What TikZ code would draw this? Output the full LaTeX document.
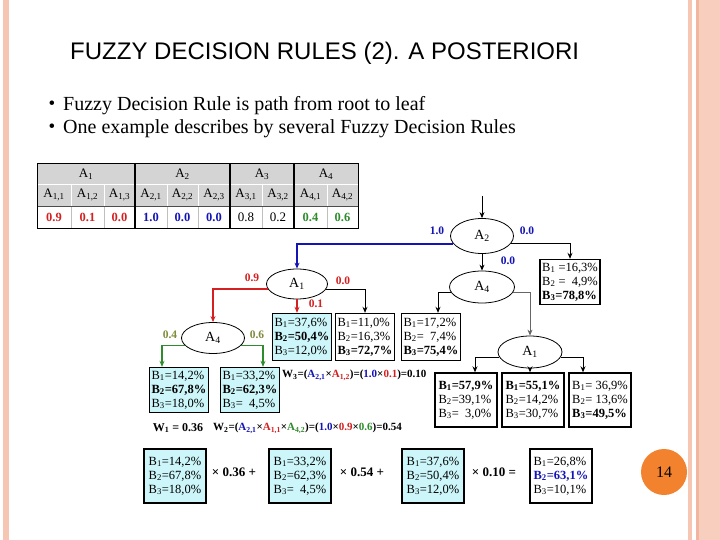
\documentclass[tikz,border=0pt]{standalone}
\usepackage{fontspec}
\setmainfont{Liberation Serif}
\newfontfamily\headfont{Liberation Sans}
\usetikzlibrary{arrows.meta,shapes.geometric}
\definecolor{framepeach}{HTML}{F7C6B3}
\definecolor{framepeachdk}{HTML}{F2B6A0}
\definecolor{pagedot}{HTML}{F3822F}
\definecolor{cellgrey}{HTML}{D4D4D4}
\definecolor{leafcyan}{HTML}{CCF6F9}
\definecolor{rulered}{HTML}{D42020}
\definecolor{ruleblue}{HTML}{1414B4}
\definecolor{rulegreen}{HTML}{2E8B2E}
\definecolor{ruleolive}{HTML}{7E8C3C}
\newcommand{\bq}[2]{B\textsubscript{#1}=#2\%}
\newcommand{\aq}[1]{A\textsubscript{#1}}
\tikzset{
  attr/.style={draw, ellipse, line width=0.8pt, inner sep=0pt, minimum width=63pt, minimum height=32pt, font=\fontsize{14}{16}\selectfont},
  leaf/.style={draw, line width=1.4pt, inner sep=2pt, align=left, minimum width=56pt, minimum height=45pt, font=\fontsize{12.5}{14}\selectfont},
  cyanleaf/.style={leaf, fill=leafcyan},
  wideleaf/.style={minimum width=62pt, minimum height=54pt},
  arrowline/.style={-{Stealth[length=6pt,width=5pt]}, line width=0.8pt},
  weight/.style={font=\bfseries\fontsize{11.5}{13}\selectfont},
  cell/.style={font=\fontsize{13}{15}\selectfont, inner sep=0pt},
  cellval/.style={font=\bfseries\fontsize{12.5}{14}\selectfont, inner sep=0pt}
}

\begin{document}
\begin{tikzpicture}[x=1pt,y=-1pt]
\useasboundingbox (0,0) rectangle (720,540);
\fill[white] (0,0) rectangle (720,540);
% slide frame
\fill[framepeach] (3,0) rectangle (9,540);
\fill[framepeach] (688,0) rectangle (692,540);
\fill[framepeach!85] (696,0) rectangle (720,540);
\fill[framepeachdk] (696,0) rectangle (699,540);
\node[circle, fill=pagedot, minimum size=46pt, inner sep=0pt, font=\fontsize{16}{18}\selectfont] (pagenum) at (664,472) {14};

% title and bullets
\node[anchor=west, inner sep=0pt, font=\headfont\fontsize{24}{28}\selectfont] (title) at (70,53) {FUZZY DECISION RULES (2). A POSTERIORI};
\node[inner sep=0pt, font=\fontsize{19}{19}\selectfont] (dot1) at (52,105) {•};
\node[anchor=west, inner sep=0pt, font=\fontsize{20}{23}\selectfont] (bul1) at (63,106) {Fuzzy Decision Rule is path from root to leaf};
\node[inner sep=0pt, font=\fontsize{19}{19}\selectfont] (dot2) at (52,128) {•};
\node[anchor=west, inner sep=0pt, font=\fontsize{20}{23}\selectfont] (bul2) at (63,129) {One example describes by several Fuzzy Decision Rules};

% attribute table
\fill[cellgrey] (37,163) rectangle (358,206);
\draw[white, line width=1pt] (37,185) -- (358,185);
\draw[white, line width=1pt] (71,185) -- (71,206) (104,185) -- (104,206) (167,185) -- (167,206) (198,185) -- (198,206) (262,185) -- (262,206) (327,185) -- (327,206);
\draw[black!25] (71,206) -- (71,228) (104,206) -- (104,228) (167,206) -- (167,228) (198,206) -- (198,228) (262,206) -- (262,228) (327,206) -- (327,228);
\draw[black!70, line width=0.6pt] (37,206) -- (358,206);
\draw[line width=1.3pt] (135,163) -- (135,228) (230,163) -- (230,228) (294,163) -- (294,228);
\draw[line width=0.8pt] (37,163) rectangle (358,228);
\node[cell] (h1) at (86,174) {\aq{1}};
\node[cell] (h2) at (182.5,174) {\aq{2}};
\node[cell] (h3) at (262,174) {\aq{3}};
\node[cell] (h4) at (326,174) {\aq{4}};
\node[cell] (s11) at (54,195) {\aq{1,1}};
\node[cell] (s12) at (87.5,195) {\aq{1,2}};
\node[cell] (s13) at (119.5,195) {\aq{1,3}};
\node[cell] (s21) at (151,195) {\aq{2,1}};
\node[cell] (s22) at (182.5,195) {\aq{2,2}};
\node[cell] (s23) at (214,195) {\aq{2,3}};
\node[cell] (s31) at (246,195) {\aq{3,1}};
\node[cell] (s32) at (278,195) {\aq{3,2}};
\node[cell] (s41) at (310.5,195) {\aq{4,1}};
\node[cell] (s42) at (342.5,195) {\aq{4,2}};
\node[cellval, rulered] (v11) at (54,217) {0.9};
\node[cellval, rulered] (v12) at (87.5,217) {0.1};
\node[cellval, rulered] (v13) at (119.5,217) {0.0};
\node[cellval, ruleblue] (v21) at (151,217) {1.0};
\node[cellval, ruleblue] (v22) at (182.5,217) {0.0};
\node[cellval, ruleblue] (v23) at (214,217) {0.0};
\node[cell] (v31) at (246,217) {0.8};
\node[cell] (v32) at (278,217) {0.2};
\node[cellval, rulegreen] (v41) at (310.5,217) {0.4};
\node[cellval, rulegreen] (v42) at (342.5,217) {0.6};

% tree
\coordinate (root) at (482,196);
\node[attr, minimum width=63pt, minimum height=35pt] (a2) at (482,236) {\aq{2}};
\node[attr, minimum width=65pt] (a4r) at (482,287) {\aq{4}};
\node[attr, minimum width=64pt] (a1b) at (530,352) {\aq{1}};
\node[attr, minimum width=61pt, minimum height=30pt] (a1t) at (297,284) {\aq{1}};
\node[attr, minimum height=31pt] (a4l) at (213,338) {\aq{4}};

\node[leaf] (lb1) at (570,282) {B\textsubscript{1} =16,3\%\\B\textsubscript{2} = \ 4,9\%\\\textbf{\bq{3}{78,8}}};
\node[cyanleaf, minimum height=47pt] (lt1) at (302,337) {\bq{1}{37,6}\\\textbf{\bq{2}{50,4}}\\\bq{3}{12,0}};
\node[leaf, minimum height=47pt] (lt2) at (365,337) {\bq{1}{11,0}\\\bq{2}{16,3}\\\textbf{\bq{3}{72,7}}};
\node[leaf, minimum height=47pt] (lr2) at (431,337) {\bq{1}{17,2}\\B\textsubscript{2}= \ 7,4\%\\\textbf{\bq{3}{75,4}}};
\node[leaf, wideleaf] (lf1) at (466,400) {\textbf{\bq{1}{57,9}}\\\bq{2}{39,1}\\B\textsubscript{3}= \ 3,0\%};
\node[leaf, wideleaf] (lf2) at (533,400) {\textbf{\bq{1}{55,1}}\\\bq{2}{14,2}\\\bq{3}{30,7}};
\node[leaf, wideleaf] (lf3) at (600,400) {B\textsubscript{1}= 36,9\%\\B\textsubscript{2}= 13,6\%\\\textbf{\bq{3}{49,5}}};
\node[cyanleaf] (lg1) at (179,390) {\bq{1}{14,2}\\\textbf{\bq{2}{67,8}}\\\bq{3}{18,0}};
\node[cyanleaf] (lg2) at (250,390) {\bq{1}{33,2}\\\textbf{\bq{2}{62,3}}\\B\textsubscript{3}= \ 4,5\%};

\draw[arrowline] (root) -- (a2.north);
\draw[arrowline, ruleblue, line width=2pt] (a2.195) -| (a1t.north);
\draw[arrowline] (a2.-15) -| (lb1.north);
\draw[arrowline] (a2.south) -- (a4r.north);
\draw[arrowline] (a4r.190) -| ([xshift=7pt]lr2.north);
\draw[arrowline, black!60] (a4r.-10) -| (a1b.north);
\draw[arrowline] (a1b.190) -| ([xshift=9pt]lf1.north);
\draw[arrowline] (a1b.south) -- (a1b.south |- lf2.north);
\draw[arrowline] (a1b.-10) -| ([xshift=-17pt]lf3.north);
\draw[arrowline, rulered, line width=1.5pt] (a1t.190) -| (a4l.north);
\draw[arrowline, rulered, line width=1.5pt] (a1t.south) -- (a1t.south |- lt1.north);
\draw[arrowline] (a1t.-10) -| (lt2.north);
\draw[arrowline, rulegreen, line width=1.5pt] (a4l.195) -| ([xshift=-17pt]lg1.north);
\draw[arrowline, rulegreen, line width=1.5pt] (a4l.-15) -| ([xshift=13pt]lg2.north);

% branch weights
\node[weight, ruleblue] (w21) at (437,231) {1.0};
\node[weight, ruleblue] (w23) at (527,231) {0.0};
\node[weight, ruleblue] (w22) at (508,261) {0.0};
\node[weight, rulered] (w11) at (252,278) {0.9};
\node[weight, rulered] (w13) at (343,281) {0.0};
\node[weight, rulered] (w12) at (316,304) {0.1};
\node[weight, ruleolive] (w41) at (170,335) {0.4};
\node[weight, ruleolive] (w42) at (257,335) {0.6};

% rule weights
\node[font=\bfseries\fontsize{12}{14}\selectfont] (rw1) at (178,428) {W\textsubscript{1} = 0.36};
\node[anchor=west, inner sep=0pt, font=\bfseries\fontsize{11}{13}\selectfont] (rw2) at (213,428) {W\textsubscript{2}=(\textcolor{ruleblue}{A\textsubscript{2,1}}×\textcolor{rulered}{A\textsubscript{1,1}}×\textcolor{rulegreen}{A\textsubscript{4,2}})=(\textcolor{ruleblue}{1.0}×\textcolor{rulered}{0.9}×\textcolor{rulegreen}{0.6})=0.54};
\node[anchor=west, inner sep=0pt, font=\bfseries\fontsize{11}{13}\selectfont] (rw3) at (282,375) {W\textsubscript{3}=(\textcolor{ruleblue}{A\textsubscript{2,1}}×\textcolor{rulered}{A\textsubscript{1,2}})=(\textcolor{ruleblue}{1.0}×\textcolor{rulered}{0.1})=0.10};

% weighted sum
\node[cyanleaf, wideleaf] (e1) at (175,476) {\bq{1}{14,2}\\\bq{2}{67,8}\\\bq{3}{18,0}};
\node[font=\bfseries\fontsize{13}{15}\selectfont] (op1) at (234,472) {× 0.36 +};
\node[cyanleaf, wideleaf] (e2) at (300,476) {\bq{1}{33,2}\\\bq{2}{62,3}\\B\textsubscript{3}= \ 4,5\%};
\node[font=\bfseries\fontsize{13}{15}\selectfont] (op2) at (362,472) {× 0.54 +};
\node[cyanleaf, wideleaf] (e3) at (433,476) {\bq{1}{37,6}\\\bq{2}{50,4}\\\bq{3}{12,0}};
\node[font=\bfseries\fontsize{13}{15}\selectfont] (op3) at (494,472) {× 0.10 =};
\node[leaf, wideleaf] (e4) at (561,476) {\bq{1}{26,8}\\\textcolor{ruleblue}{\textbf{\bq{2}{63,1}}}\\\bq{3}{10,1}};
\end{tikzpicture}
\end{document}
